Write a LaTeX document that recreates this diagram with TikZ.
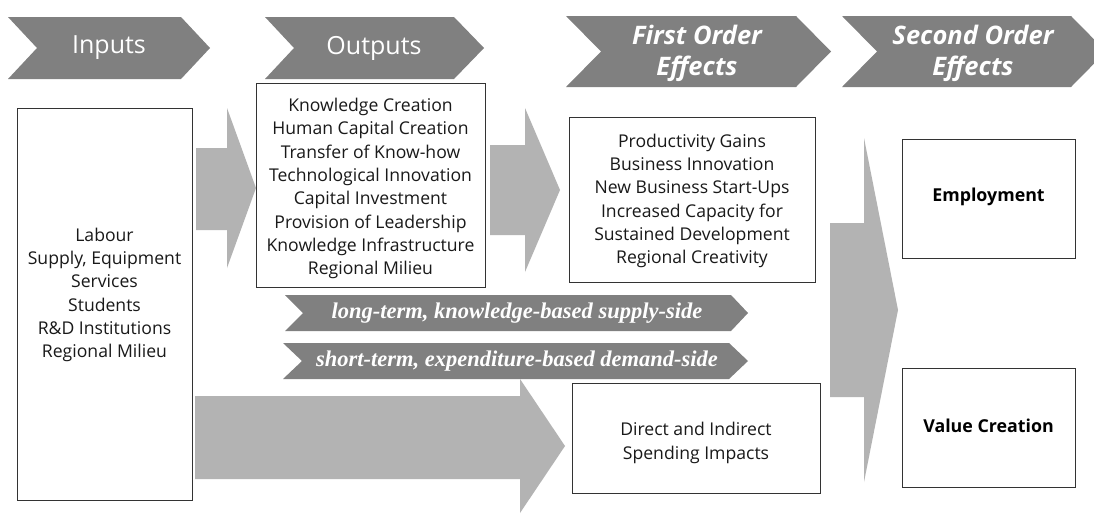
\documentclass[tikz,border=0pt]{standalone}
\usepackage{fontspec}
\setmainfont{Open Sans}
\newfontfamily\timesfont{Liberation Serif}
\definecolor{hdrgray}{RGB}{128,128,128}
\definecolor{arrgray}{RGB}{179,179,179}
\definecolor{txt}{RGB}{25,25,25}
\begin{document}
\begin{tikzpicture}[x=1pt,y=-1pt,
  hdr/.style={fill=hdrgray,draw=none},
  bigarrow/.style={fill=arrgray,draw=none},
  boxframe/.style={draw=black!80,line width=0.9pt,fill=white,inner sep=0pt},
  bodytxt/.style={align=center,text=txt,inner sep=0pt,font=\fontsize{17.6}{23.3}\selectfont},
  hdrtxt/.style={text=white,inner sep=0pt,align=center,font=\fontsize{25}{30}\selectfont},
  hdrtxtbi/.style={text=white,inner sep=0pt,align=center,font=\fontsize{25.5}{31}\selectfont\bfseries\itshape},
  bandtxt/.style={text=white,inner sep=0pt,font=\fontsize{22.5}{24}\timesfont\bfseries\itshape},
  boldtxt/.style={text=black,inner sep=0pt,font=\fontsize{17.8}{20}\selectfont\bfseries}]
\clip (0,0) rectangle (1094,514);
\fill[white] (0,0) rectangle (1094,514);
% header chevrons
\fill[hdr] (8,17) -- (181,17) -- (210,48) -- (181,79) -- (8,79) -- (37,48) -- cycle;
\fill[hdr] (265,17) -- (454,17) -- (484,48) -- (454,79) -- (265,79) -- (294,48) -- cycle;
\fill[hdr] (566,16) -- (796,16) -- (831,51.5) -- (796,87) -- (566,87) -- (601,51.5) -- cycle;
\fill[hdr] (842,16) -- (1071,16) -- (1106,51.5) -- (1071,87) -- (842,87) -- (877,51.5) -- cycle;
\node[hdrtxt] (hin) at (109,48) {Inputs};
\node[hdrtxt] (hout) at (374,48) {Outputs};
\node[hdrtxtbi] (hfirst) at (697,53) {First Order\\Effects};
\node[hdrtxtbi] (hsecond) at (973,53) {Second Order\\Effects};
% big arrows
\fill[bigarrow] (196,148) -- (227,148) -- (227,108) -- (256,188) -- (227,268) -- (227,230) -- (196,230) -- cycle;
\fill[bigarrow] (490,145) -- (525,145) -- (525,108) -- (560,190) -- (525,272) -- (525,235) -- (490,235) -- cycle;
\fill[bigarrow] (195,396) -- (520,396) -- (520,379) -- (565,446) -- (520,513) -- (520,479) -- (195,479) -- cycle;
\fill[bigarrow] (830,223) -- (864,223) -- (864,138) -- (898,310) -- (864,482) -- (864,397) -- (830,397) -- cycle;
% band chevrons
\fill[hdr] (285,295) -- (731,295) -- (748,313) -- (731,331) -- (285,331) -- (303,313) -- cycle;
\fill[hdr] (283,343) -- (729,343) -- (748,361) -- (729,379) -- (283,379) -- (302,361) -- cycle;
\node[bandtxt] (long) at (517,313) {long-term, knowledge-based supply-side};
\node[bandtxt] (short) at (517,361) {short-term, expenditure-based demand-side};
% boxes
\node[boxframe,minimum width=175pt,minimum height=392pt] (inbox) at (104.5,304) {};
\node[bodytxt] (intxt) at (104.5,295) {Labour\\Supply, Equipment\\Services\\Students\\R\&D Institutions\\Regional Milieu};
\node[boxframe,minimum width=229pt,minimum height=204pt] (outbox) at (370.5,185) {};
\node[bodytxt] (outtxt) at (370.5,188.5) {Knowledge Creation\\Human Capital Creation\\Transfer of Know-how\\Technological Innovation\\Capital Investment\\Provision of Leadership\\Knowledge Infrastructure\\Regional Milieu};
\node[boxframe,minimum width=246pt,minimum height=165pt] (firstbox) at (692,199.5) {};
\node[bodytxt] (firsttxt) at (692,201) {Productivity Gains\\Business Innovation\\New Business Start-Ups\\Increased Capacity for\\Sustained Development\\Regional Creativity};
\node[boxframe,minimum width=248pt,minimum height=110pt] (directbox) at (696,438) {};
\node[bodytxt] (directtxt) at (696,443) {Direct and Indirect\\Spending Impacts};
\node[boxframe,minimum width=173pt,minimum height=119pt] (empbox) at (988.5,198.5) {};
\node[boldtxt] (emptxt) at (988.5,197) {Employment};
\node[boxframe,minimum width=173pt,minimum height=119pt] (valbox) at (988.5,427.5) {};
\node[boldtxt] (valtxt) at (988.5,426) {Value Creation};
\end{tikzpicture}
\end{document}
